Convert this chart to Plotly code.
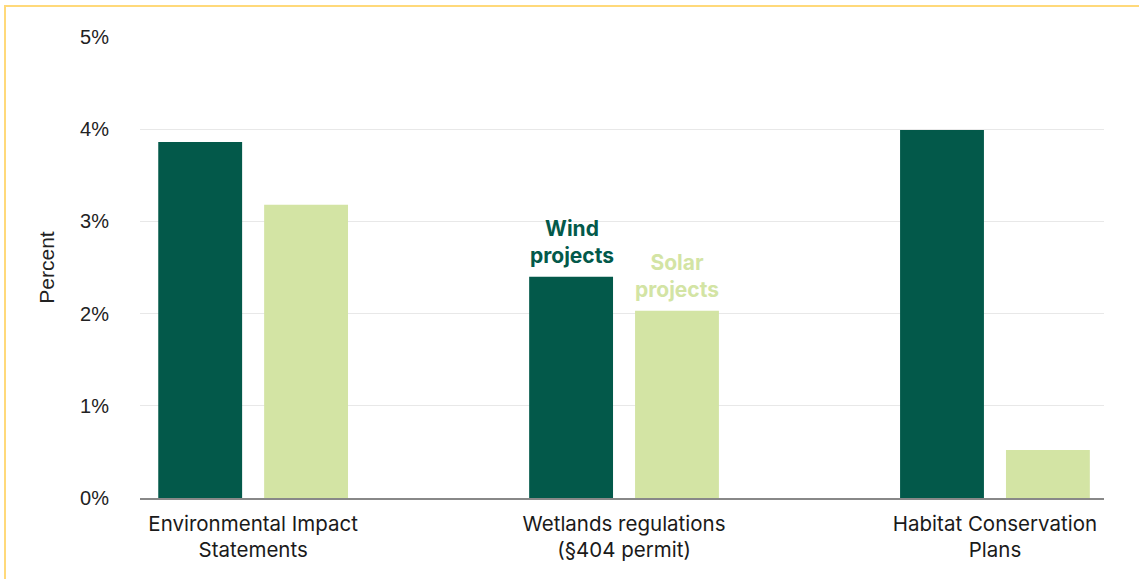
import plotly.graph_objects as go

categories = ["Environmental Impact<br>Statements", "Wetlands regulations<br>(§404 permit)", "Habitat Conservation<br>Plans"]
wind = [3.86, 2.40, 3.99]
solar = [3.18, 2.03, 0.52]
y_ticks = [0, 1, 2, 3, 4, 5]
y_ticktext = ["0%", "1%", "2%", "3%", "4%", "5%"]

DARK = "#03594a"
LIGHT = "#d3e4a4"
xpos = list(range(len(categories)))

fig = go.Figure()
fig.add_trace(go.Bar(x=xpos, y=wind, name="Wind projects", marker=dict(color=DARK, line=dict(width=0))))
fig.add_trace(go.Bar(x=xpos, y=solar, name="Solar projects", marker=dict(color=LIGHT, line=dict(width=0))))

fig.update_layout(
    width=1139, height=579,
    margin=dict(l=140, r=35, t=37, b=81),
    paper_bgcolor="white", plot_bgcolor="white",
    barmode="group", bargap=0.429, bargroupgap=0.208,
    showlegend=False,
    font=dict(family="Inter, Liberation Sans, Arial", color="#222222"),
)
fig.update_xaxes(
    range=[-0.305, 2.294], tickmode="array", tickvals=xpos, ticktext=categories,
    tickfont=dict(size=20.5, family="Inter", color="#1a1a1a"),
    showgrid=False, zeroline=False, showline=True, linecolor="#888888", linewidth=2,
    ticks="", ticklabelstandoff=6,
)
fig.update_yaxes(
    range=[0, 5], tickmode="array", tickvals=y_ticks, ticktext=y_ticktext,
    tickfont=dict(size=20, family="Liberation Sans, Arial", color="#222222"),
    showgrid=True, gridcolor="#e8e8e8", gridwidth=1, zeroline=False,
    ticks="", ticklabelstandoff=30,
    title=dict(text="Percent", font=dict(size=21, family="Liberation Sans, Arial", color="#222222"), standoff=19),
)

# series labels above the middle group
fig.add_annotation(x=1 - 0.1415, y=wind[1], text="<b>Wind<br>projects</b>", showarrow=False,
                   yanchor="bottom", yshift=7, font=dict(size=21, family="Inter", color=DARK))
fig.add_annotation(x=1 + 0.1425, y=solar[1], text="<b>Solar<br>projects</b>", showarrow=False,
                   yanchor="bottom", yshift=7, font=dict(size=21, family="Inter", color=LIGHT))

# decorative frame
fig.add_shape(type="rect", xref="paper", yref="paper",
              x0=(5 - 140) / 964, x1=(1160 - 140) / 964,
              y0=(498 - 600) / 461, y1=(498 - 6) / 461,
              line=dict(color="#ffd97a", width=2), fillcolor="rgba(0,0,0,0)", layer="below")

fig.write_html("out.html")
